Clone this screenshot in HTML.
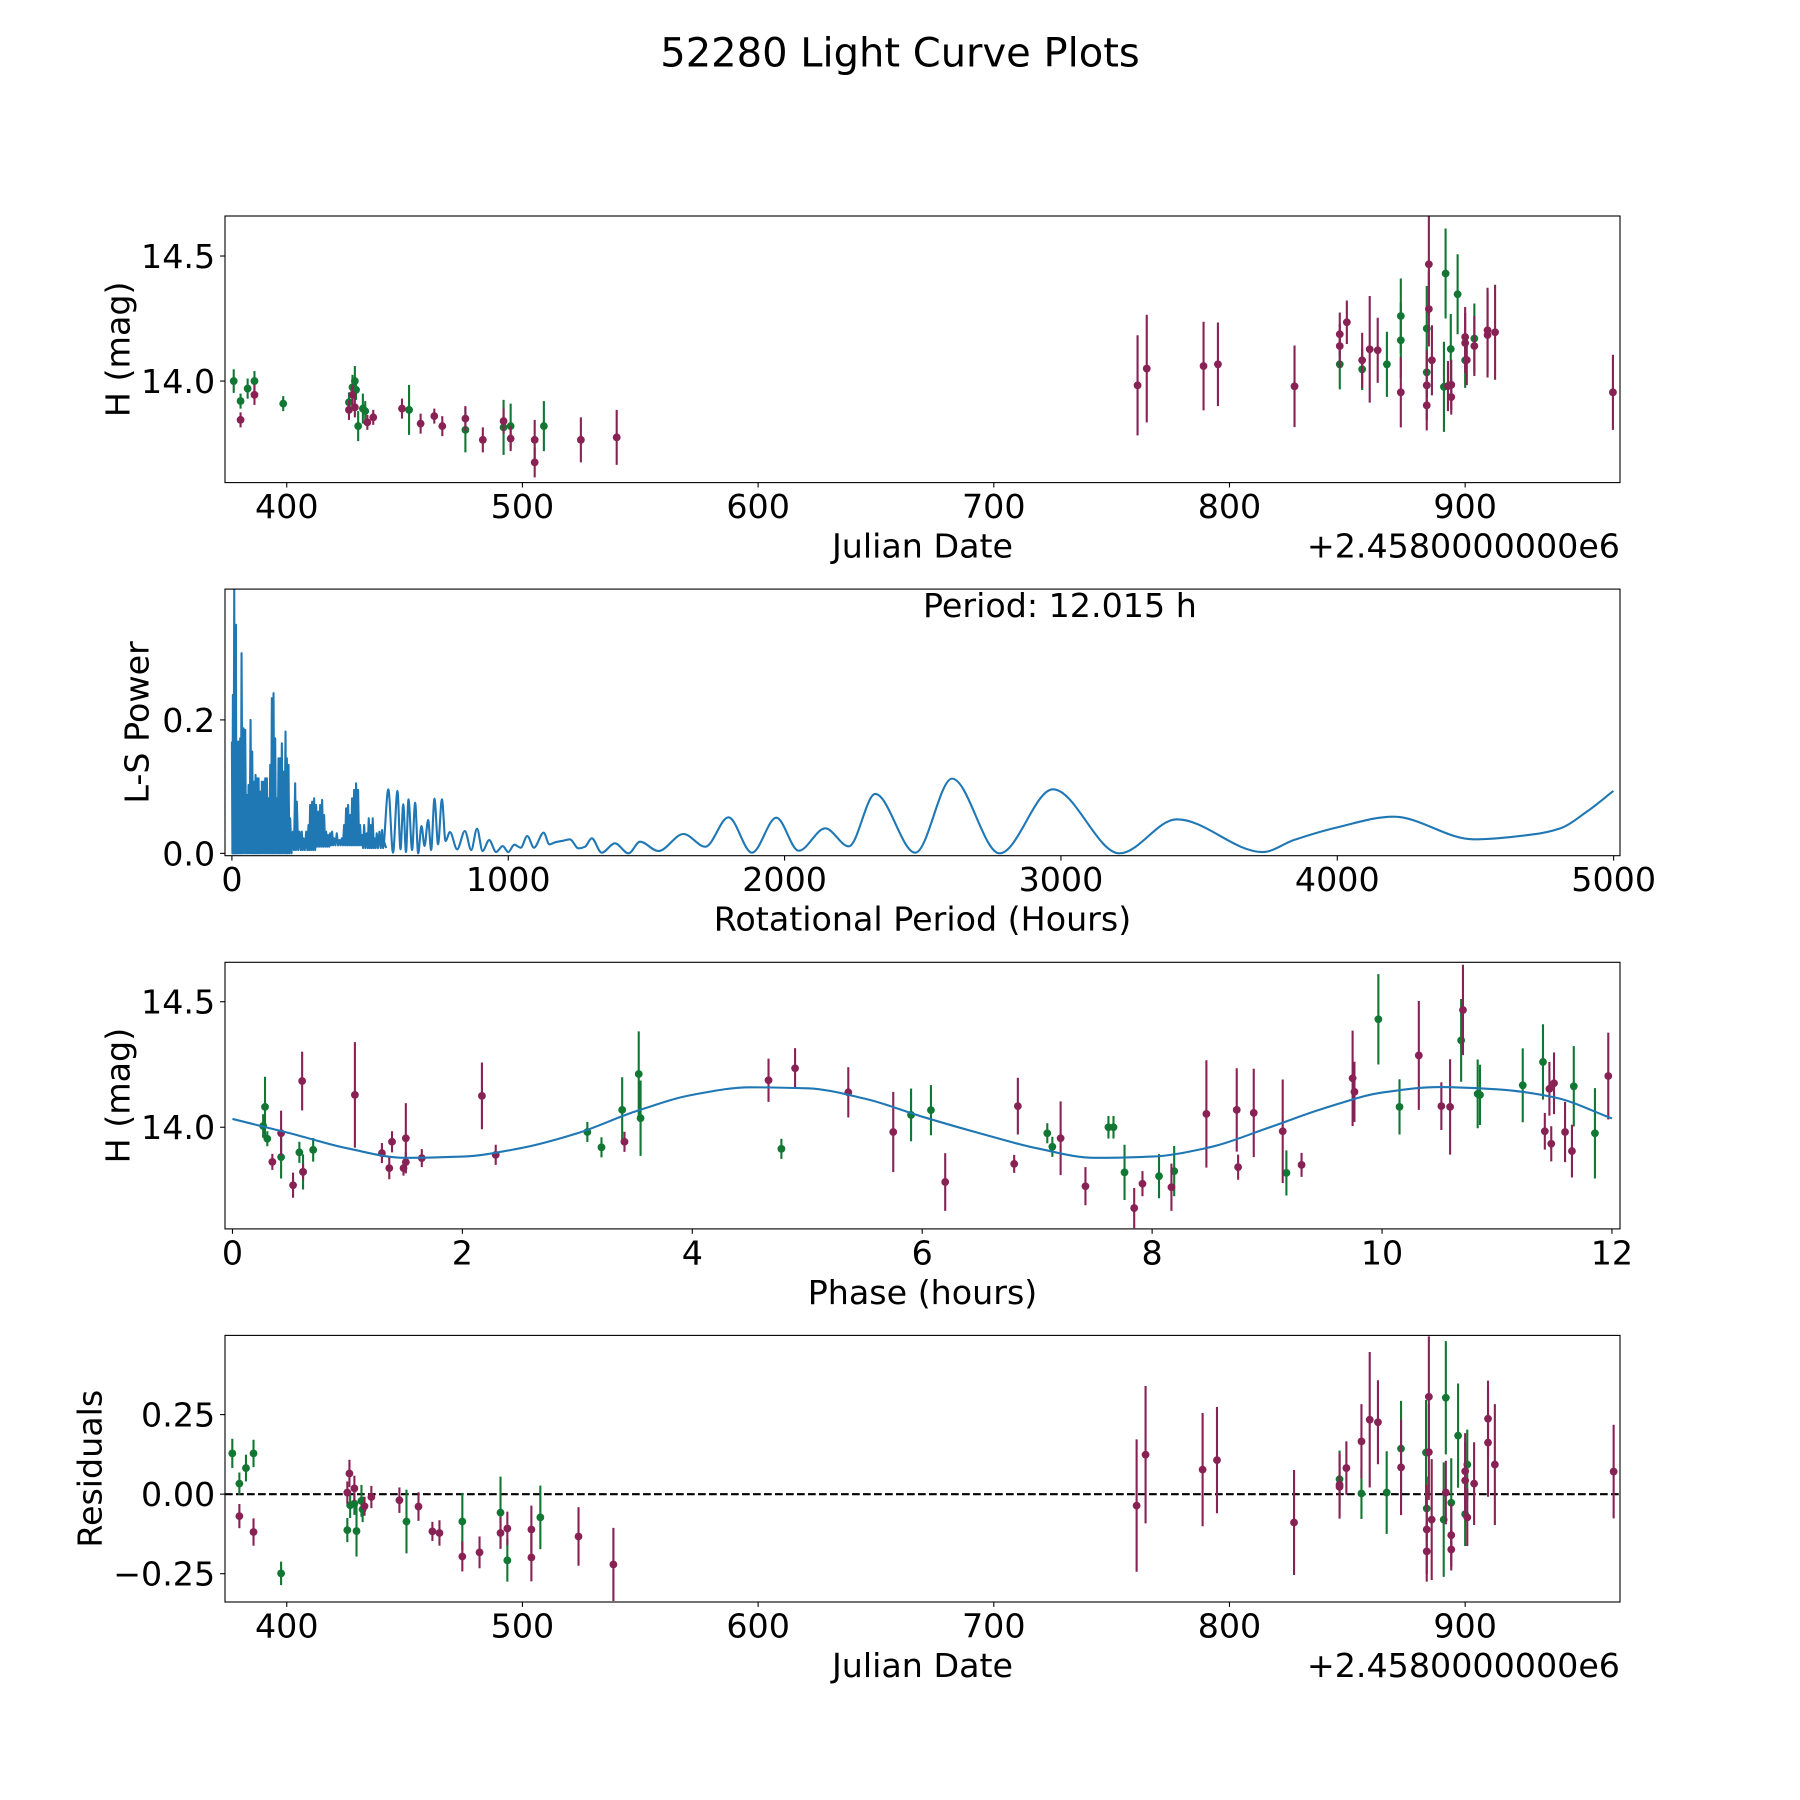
<!DOCTYPE html>
<html><head><meta charset="utf-8"><title>52280 Light Curve Plots</title>
<style>
html,body{margin:0;padding:0;background:#fff;}
svg{display:block;font-family:"DejaVu Sans","Liberation Sans",sans-serif;}
</style></head>
<body>
<svg id="fig" xmlns="http://www.w3.org/2000/svg" width="1800" height="1800" viewBox="0 0 1800 1800">
<rect x="0" y="0" width="1800" height="1800" fill="#fff"/>
<defs>
<clipPath id="clip1"><rect x="225" y="216" width="1395" height="266.6"/></clipPath>
<clipPath id="clip2"><rect x="225" y="589.1" width="1395" height="266.6"/></clipPath>
<clipPath id="clip3"><rect x="225" y="962.3" width="1395" height="266.6"/></clipPath>
<clipPath id="clip4"><rect x="225" y="1335.4" width="1395" height="266.6"/></clipPath>
</defs>
<text x="900" y="66.7" font-size="40" text-anchor="middle" fill="#000">52280 Light Curve Plots</text>
</svg>
<script>
// ---------- Panel 1: light curve ----------
const lcGreenDate = [377.5,380.4,383.4,386.3,398.5,426.4,427.9,428.9,429.4,430.3,432.3,433.3,451.9,475.8,492.0,495.0,509.1,846.8,856.3,866.8,872.7,872.7,883.7,883.7,891.7,891,893.9,896.8,900,903.9];
const lcGreenMag = [14.0,13.92,13.97,14.0,13.91,13.915,13.975,14.0,13.965,13.82,13.89,13.88,13.885,13.805,13.815,13.82,13.82,14.067,14.047,14.067,14.26,14.163,14.21,14.035,14.43,13.977,14.128,14.347,14.083,14.17];
const lcGreenErr = [.047,.03,.04,.04,.03,.04,.05,.06,.04,.06,.06,.04,.1,.09,.11,.09,.1,.1,.083,.13,.15,.15,.17,.1,.18,.18,.14,.16,.11,.14];
const lcMaroonDate = [380.4,386.3,426.4,427.9,428.9,434.2,436.7,448.9,456.8,462.6,466.0,475.8,483.2,492.0,495.0,505.2,505.2,524.8,540.0,761,764.9,789,795.1,827.6,846.8,846.8,849.8,856.3,859.5,862.9,872.7,883.7,883.7,884.6,884.6,885.9,892.7,894.1,894.1,900,900,900.7,903.9,909.5,909.5,912.7,962.7];
const lcMaroonMag = [13.845,13.945,13.885,13.945,13.895,13.835,13.855,13.89,13.83,13.86,13.82,13.85,13.765,13.84,13.77,13.765,13.675,13.765,13.775,13.983,14.05,14.06,14.067,13.979,14.187,14.14,14.235,14.083,14.127,14.123,13.955,13.983,13.903,14.467,14.288,14.083,13.98,13.936,13.985,14.176,14.152,14.084,14.14,14.203,14.184,14.195,13.955];
const lcMaroonErr = [.03,.04,.04,.04,.04,.03,.03,.04,.04,.03,.04,.05,.05,.05,.05,.08,.06,.09,.11,.2,.215,.177,.167,.163,.087,.087,.087,.11,.213,.13,.14,.14,.1,.2,.15,.14,.1,.07,.1,.12,.12,.1,.12,.17,.17,.19,.15];
const dateTicks = [400,500,600,700,800,900];
const dateTickLabels = ["400","500","600","700","800","900"];
const magTicks = [14.0,14.5];
const magTickLabels = ["14.0","14.5"];

// ---------- Panel 2: periodogram ----------
const densePeriod = [0,3.6,8.4,14.5,18.1,24.1,30.1,34.9,42.2,48.2,54.2,60.2,67.5,73.5,79.5,85.5,90.4,96.4,102.4,108.4,114.5,120.5,126.5,132.5,138.6,144.6,150.6,156.6,162.6,168.7,174.7,180.7,186.7,194,198.8,204.8,210.8,220.5,228.9,234.9,244.6,253,259,268.7,277.1,283.1,290.4,297.6,304.8,312,319.3,326.5,333.7,341,348.2,355.4,362.6,369.9,379.5,389.2,397.6,406,413.2,420.5,427.7,434.9,442.2,449.4,456.6,463.8,471.1,478.3,487.9,495.2,502.4,509.6,516.9,524.1,533.7,543.4,550.6];
const densePeak = [0.1675,0.2375,0.395,0.3425,0.1675,0.1675,0.1725,0.3,0.1875,0.185,0.0875,0.1025,0.2,0.1525,0.1075,0.1175,0.1125,0.1125,0.0925,0.1075,0.1075,0.1125,0.1125,0.0825,0.1325,0.2325,0.24,0.1725,0.0825,0.1425,0.1425,0.165,0.1225,0.1825,0.1425,0.1325,0.0525,0.0325,0.105,0.0775,0.0325,0.0325,0.0225,0.0325,0.0425,0.0725,0.0775,0.0825,0.0725,0.0625,0.0725,0.08,0.0575,0.0325,0.0275,0.03,0.0325,0.0225,0.03,0.02,0.0225,0.0425,0.0675,0.0725,0.0575,0.0825,0.095,0.105,0.095,0.0425,0.0275,0.0425,0.03,0.0525,0.0425,0.0525,0.0225,0.03,0.0325,0.035,0.0175];
const denseTrough = [0,0,0,0,0,0,0,0,0,0,0,0,0,0,0,0,0,0,0,0,0,0,0,0,0,0,0,0,0,0,0,0,0,0,0,0,0,0.005,0.005,0.005,0.005,0.005,0.005,0.005,0.005,0.005,0.005,0.005,0.01,0.01,0.01,0.01,0.01,0.01,0.01,0.012,0.012,0.012,0.012,0.012,0.012,0.012,0.012,0.012,0.012,0.012,0.012,0.012,0.012,0.012,0.008,0.008,0.008,0.008,0.008,0.008,0.008,0.008,0.008,0.008,0.008];
const smoothPeriod = [566,583,599,610,620,630,639,652,663,674,686,697,710,721,733,746,760,773,789,815,843,866,887,907,931,956,980,1000,1022,1045,1069,1093,1128,1149,1169,1199,1223,1254,1278,1302,1338,1386,1435,1477,1543,1634,1713,1797,1882,1970,2051,2147,2232,2328,2473,2606,2778,2971,3212,3419,3730,3843,4000,4203,4493,4710,4807,4903,4999];
const smoothPower = [.096,.001,.0935,.006,.0735,.002,.081,.005,.076,0,.041,.011,.05,.005,.082,.0135,.081,.0185,.032,.006,.0335,.005,.037,.0035,.02,.002,.011,.002,.013,.0085,.026,.0085,.031,.0135,.0165,.019,.021,.0075,.01,.0225,.001,.015,0,.0175,.0035,.029,.01,.054,.001,.0535,.004,.0375,.0105,.089,.001,.112,0,.096,0,.051,.002,.02,.039,.055,.021,.0285,.0375,.0625,.0935];
const periodTicks = [0,1000,2000,3000,4000,5000];
const periodTickLabels = ["0","1000","2000","3000","4000","5000"];
const powerTicks = [0.0,0.2];
const powerTickLabels = ["0.0","0.2"];

// ---------- Panel 3: phased ----------
const phGreenPhase = [0.267,0.283,0.303,0.423,0.582,0.614,0.702,3.087,3.21,3.39,3.534,3.55,4.775,5.903,6.076,7.088,7.132,7.62,7.664,7.76,8.06,8.192,9.168,9.968,10.152,10.688,10.832,10.852,11.224,11.4,11.668,11.852];
const phGreenMag = [14.005,14.081,13.954,13.881,13.9,13.822,13.91,13.981,13.92,14.069,14.212,14.036,13.914,14.049,14.068,13.976,13.922,14.0,14.0,13.82,13.805,13.825,13.818,14.43,14.081,14.346,14.133,14.129,14.167,14.26,14.163,13.976];
const phGreenErr = [.047,.12,.03,.085,.042,.07,.047,.04,.04,.13,.17,.15,.04,.105,.1,.04,.04,.045,.045,.11,.088,.1,.09,.18,.11,.165,.137,.12,.147,.15,.16,.18];
const phMaroonPhase = [0.347,0.423,0.527,0.606,0.614,1.065,1.30,1.364,1.388,1.488,1.508,1.508,1.647,2.17,2.29,3.41,4.663,4.894,5.357,5.748,6.2,6.8,6.832,7.204,7.42,7.844,7.916,8.168,8.472,8.736,8.748,8.884,9.136,9.3,9.744,9.76,10.32,10.516,10.592,10.704,11.416,11.456,11.472,11.496,11.592,11.652,11.968];
const phMaroonMag = [13.862,13.976,13.769,14.184,13.822,14.129,13.897,13.837,13.942,13.837,13.861,13.956,13.877,14.125,13.89,13.942,14.187,14.235,14.139,13.981,13.782,13.854,14.084,13.956,13.765,13.678,13.775,13.761,14.053,14.069,13.841,14.057,13.984,13.85,14.195,14.141,14.286,14.084,14.081,14.467,13.984,14.153,13.934,14.175,13.981,13.905,14.204];
const phMaroonErr = [.032,.09,.05,.117,.03,.21,.04,.044,.042,.03,.04,.14,.036,.133,.04,.04,.086,.08,.1,.16,.115,.036,.113,.147,.076,.08,.05,.094,.214,.166,.05,.176,.206,.048,.19,.12,.217,.095,.19,.18,.073,.107,.07,.123,.12,.105,.173];
const modelPhase = [0,0.5,1,1.5,2,2.5,3,3.5,4,4.5,5,5.5,6,6.5,7,7.5,8,8.5,9,9.5,10,10.5,11,11.5,12];
const modelMag = [14.033,13.976,13.916,13.878,13.883,13.916,13.976,14.062,14.129,14.159,14.155,14.114,14.042,13.976,13.916,13.878,13.883,13.92,13.996,14.076,14.138,14.160,14.151,14.119,14.035];
const phaseTicks = [0,2,4,6,8,10,12];
const phaseTickLabels = ["0","2","4","6","8","10","12"];

// ---------- Panel 4: residuals ----------
const resGreenDate = [376.9,379.9,382.7,385.9,397.6,425.7,426.9,428.7,429.6,431.7,432.2,450.8,474.5,490.7,493.6,507.6,846.7,856,866.7,872.8,883.4,883.7,891.8,890.9,894.1,897,900,900.9];
const resGreenVal = [.128,.033,.082,.128,-.249,-.113,-.035,-.03,-.116,-.021,-.048,-.086,-.086,-.058,-.208,-.073,.047,.002,.005,.143,.131,-.045,.303,-.08,-.027,.184,-.063,.093];
const resGreenErr = [.046,.035,.042,.043,.037,.038,.04,.035,.08,.05,.04,.1,.09,.113,.067,.1,.09,.08,.13,.15,.165,.1,.178,.18,.14,.164,.1,.11];
const resMaroonDate = [379.9,385.9,425.7,426.6,428.7,433,435.9,447.8,455.9,461.8,464.8,474.5,481.8,490.7,493.6,503.8,503.8,523.8,538.6,760.6,764.4,788.6,794.7,827.4,846.7,846.7,849.6,856,859.5,863,872.8,884.6,884.6,883.7,883.7,885.8,891.8,894.1,894.1,900,900,900.9,903.8,909.7,909.7,912.6,963];
const resMaroonVal = [-.069,-.119,.005,.065,.018,-.038,-.009,-.019,-.039,-.117,-.122,-.196,-.183,-.122,-.108,-.111,-.199,-.133,-.221,-.036,.124,.077,.107,-.089,.03,.023,.082,.166,.234,.226,.084,.306,.132,-.111,-.18,-.08,.005,-.129,-.174,.072,.043,-.073,.033,.237,.162,.093,.071];
const resMaroonErr = [.038,.043,.035,.043,.04,.03,.035,.04,.045,.03,.04,.047,.05,.05,.053,.075,.075,.092,.115,.208,.216,.178,.167,.165,.1,.1,.084,.117,.213,.132,.15,.19,.15,.14,.095,.19,.1,.1,.066,.12,.12,.09,.13,.12,.17,.19,.147];
const resTicks = [-0.25,0,0.25];
const resTickLabels = ["\u22120.25","0.00","0.25"];

// ---------- rendering ----------
const NS = 'http://www.w3.org/2000/svg';
const svg = document.getElementById('fig');
const GREEN = '#117733', MAROON = '#882255', BLUE = '#1f77b4';
const L = 225, R = 1620, H = 266.6;
const FS = 33.3;

function el(tag, attrs, parent) {
  const e = document.createElementNS(NS, tag);
  for (const k in attrs) e.setAttribute(k, attrs[k]);
  (parent || svg).appendChild(e);
  return e;
}
function lin(d0, d1, r0, r1) { return v => r0 + (v - d0) * (r1 - r0) / (d1 - d0); }

function monotonePath(xs, ys) {
  const n = xs.length;
  const dx = [], m = [], t = new Array(n);
  for (let i = 0; i < n - 1; i++) { dx.push(xs[i+1]-xs[i]); m.push((ys[i+1]-ys[i])/(xs[i+1]-xs[i])); }
  t[0] = m[0]; t[n-1] = m[n-2];
  for (let i = 1; i < n - 1; i++) {
    if (m[i-1] * m[i] <= 0) t[i] = 0;
    else { const w1 = 2*dx[i]+dx[i-1], w2 = dx[i]+2*dx[i-1]; t[i] = (w1+w2)/(w1/m[i-1]+w2/m[i]); }
  }
  let d = 'M' + xs[0].toFixed(2) + ',' + ys[0].toFixed(2);
  for (let i = 0; i < n - 1; i++) {
    const h = dx[i] / 3;
    d += ' C' + (xs[i]+h).toFixed(2) + ',' + (ys[i]+t[i]*h).toFixed(2) + ' ' + (xs[i+1]-h).toFixed(2) + ',' + (ys[i+1]-t[i+1]*h).toFixed(2) + ' ' + xs[i+1].toFixed(2) + ',' + ys[i+1].toFixed(2);
  }
  return d;
}

function makeAxes(id, top, xmin, xmax, ymin, ymax, xt, xtl, yt, ytl, xlabel, ylabel, ylabelX, offsetText) {
  const g = el('g', {});
  
  
  const bottom = top + H;
  const sx = lin(xmin, xmax, L, R), sy = lin(ymin, ymax, bottom, top);
  const plot = el('g', {'clip-path': 'url(#clip' + id.slice(-1) + ')'}, g);
  
  
  const xg = el('g', {}, g);
  
  
  xt.forEach((v, i) => {
    const x = sx(v);
    const tk = el('line', {x1: x, x2: x, y1: bottom, y2: bottom + 4.9, stroke: '#000', 'stroke-width': 1.1}, xg);
    
    
    const tl = el('text', {x: x, y: bottom + 35.5, 'font-size': FS, 'text-anchor': 'middle'}, xg);
    
    
    tl.textContent = xtl[i];
  });
  const xl = el('text', {x: (L + R) / 2, y: bottom + 75, 'font-size': FS, 'text-anchor': 'middle'}, xg);
  
  
  xl.textContent = xlabel;
  if (offsetText) {
    const ot = el('text', {x: R, y: bottom + 75, 'font-size': FS, 'text-anchor': 'end'}, xg);
    
    
    ot.textContent = offsetText;
  }
  const yg = el('g', {}, g);
  
  
  yt.forEach((v, i) => {
    const y = sy(v);
    const tk = el('line', {x1: L - 4.9, x2: L, y1: y, y2: y, stroke: '#000', 'stroke-width': 1.1}, yg);
    
    
    const tl = el('text', {x: L - 9.8, y: y + 12, 'font-size': FS, 'text-anchor': 'end'}, yg);
    
    
    tl.textContent = ytl[i];
  });
  const cy = top + H / 2;
  const yl = el('text', {x: ylabelX, y: cy, 'font-size': FS, 'text-anchor': 'middle', 'dominant-baseline': 'central', transform: 'rotate(-90 ' + ylabelX + ' ' + cy + ')'}, yg);
  
  
  yl.textContent = ylabel;
  return {g, plot, sx, sy, top, bottom};
}

function frame(ax, id) {
  const f = el('rect', {x: L, y: ax.top, width: R - L, height: H, fill: 'none', stroke: '#000', 'stroke-width': 1.1}, ax.g);
  
  
}

function errSeries(ax, xs, ys, es, color, name) {
  const grp = el('g', {}, ax.plot);
  
  
  xs.forEach((v, i) => {
    const x = ax.sx(v);
    const b = el('line', {x1: x, x2: x, y1: ax.sy(ys[i] - es[i]), y2: ax.sy(ys[i] + es[i]), stroke: color, 'stroke-width': 2.1}, grp);
    
    
  });
  xs.forEach((v, i) => {
    const c = el('circle', {cx: ax.sx(v), cy: ax.sy(ys[i]), r: 3.9, fill: color}, grp);
    
    
  });
}

// Panel 1
const ax1 = makeAxes('panel1', 216, 373.8, 965.7, 13.594, 14.66, dateTicks, dateTickLabels, magTicks, magTickLabels, 'Julian Date', 'H (mag)', 118, '+2.4580000000e6');
errSeries(ax1, lcGreenDate, lcGreenMag, lcGreenErr, GREEN, 'light-curve-green');
errSeries(ax1, lcMaroonDate, lcMaroonMag, lcMaroonErr, MAROON, 'light-curve-maroon');
frame(ax1, 'panel1');

// Panel 2
const ax2 = makeAxes('panel2', 589.1, -25, 5023, -0.0035, 0.396, periodTicks, periodTickLabels, powerTicks, powerTickLabels, 'Rotational Period (Hours)', 'L-S Power', 137, null);
(function () {
  let d = '';
  densePeriod.forEach((p, i) => {
    const x = ax2.sx(p);
    d += (i === 0 ? 'M' : ' L') + x.toFixed(2) + ',' + ax2.sy(densePeak[i]).toFixed(2);
    const next = i < densePeriod.length - 1 ? densePeriod[i+1] : smoothPeriod[0];
    d += ' L' + ax2.sx((p + next) / 2).toFixed(2) + ',' + ax2.sy(denseTrough[i]).toFixed(2);
  });
  const dp = el('path', {d: d, fill: 'none', stroke: BLUE, 'stroke-width': 2.1, 'stroke-linejoin': 'round'}, ax2.plot);
  
  
  const xs = [ax2.sx(densePeriod[densePeriod.length-1])].concat(smoothPeriod.map(ax2.sx));
  const ys = [ax2.sy(densePeak[densePeak.length-1])].concat(smoothPower.map(ax2.sy));
  const sp = el('path', {d: monotonePath(xs, ys), fill: 'none', stroke: BLUE, 'stroke-width': 2.1}, ax2.plot);
  
  
})();
const pt = el('text', {x: 923, y: 617, 'font-size': FS, 'text-anchor': 'start'}, ax2.g);


pt.textContent = 'Period: 12.015 h';
frame(ax2, 'panel2');

// Panel 3
const ax3 = makeAxes('panel3', 962.3, -0.065, 12.07, 13.595, 14.657, phaseTicks, phaseTickLabels, magTicks, magTickLabels, 'Phase (hours)', 'H (mag)', 118, null);
errSeries(ax3, phGreenPhase, phGreenMag, phGreenErr, GREEN, 'phased-green');
errSeries(ax3, phMaroonPhase, phMaroonMag, phMaroonErr, MAROON, 'phased-maroon');
const mp = el('path', {d: monotonePath(modelPhase.map(ax3.sx), modelMag.map(ax3.sy)), fill: 'none', stroke: BLUE, 'stroke-width': 2.1}, ax3.plot);


frame(ax3, 'panel3');

// Panel 4
const ax4 = makeAxes('panel4', 1335.4, 373.8, 965.7, -0.339, 0.499, dateTicks, dateTickLabels, resTicks, resTickLabels, 'Julian Date', 'Residuals', 90, '+2.4580000000e6');
const zl = el('line', {x1: L, x2: R, y1: ax4.sy(0), y2: ax4.sy(0), stroke: '#000', 'stroke-width': 2.1, 'stroke-dasharray': '7.7 3.3'}, ax4.plot);


errSeries(ax4, resGreenDate, resGreenVal, resGreenErr, GREEN, 'residual-green');
errSeries(ax4, resMaroonDate, resMaroonVal, resMaroonErr, MAROON, 'residual-maroon');
frame(ax4, 'panel4');
</script>
</body></html>
